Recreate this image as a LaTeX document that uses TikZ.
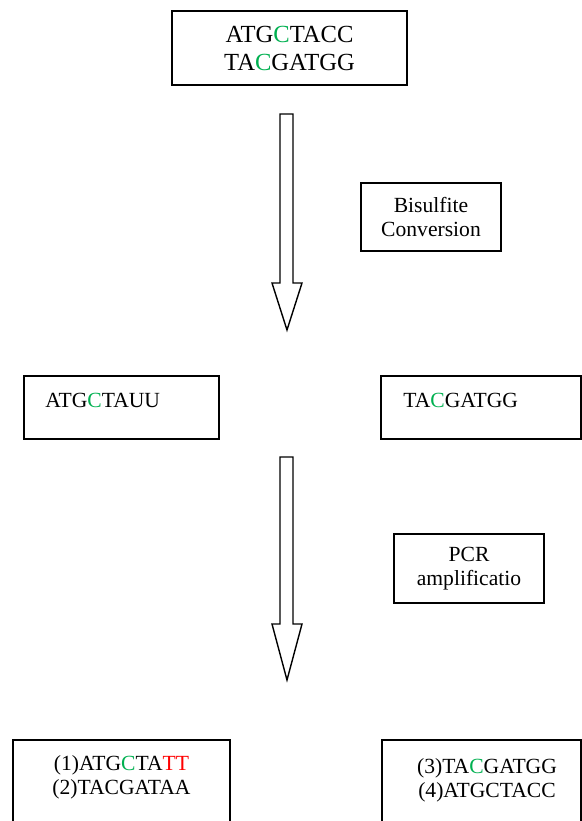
\documentclass[tikz,border=0pt]{standalone}
\usepackage{fontspec}
\setmainfont{Liberation Serif}
\definecolor{cpg}{RGB}{0,176,80}
\definecolor{conv}{RGB}{255,0,0}
\newcommand{\mC}{\textcolor{cpg}{C}}
\newcommand{\cT}{\textcolor{conv}{T}}

\begin{document}
\begin{tikzpicture}[x=0.5pt,y=-0.5pt,
		box/.style={draw,line width=0.9pt,inner sep=0pt,align=center},
		seq/.style={font=\fontsize{10.8}{12}\selectfont,align=center},
		bigseq/.style={font=\fontsize{12.3}{14}\selectfont},
		blockarrow/.style={draw,line width=0.7pt,line join=miter},
	]
	\useasboundingbox (0,0) rectangle (582,821);
	% starting double strand
	\node[box,bigseq,minimum width=117.5pt,minimum height=37pt] (dna) at (289.5,48) {ATG\mC TACC\\TA\mC GATGG};
	% step labels
	\node[box,seq,minimum width=70pt,minimum height=34pt] (bisulfite) at (431,217) {Bisulfite\\Conversion};
	\node[box,seq,minimum width=75pt,minimum height=34.5pt] (pcr) at (469,568.5) {PCR\\amplificatio};
	% converted strands
	\node[box,minimum width=97.5pt,minimum height=31.5pt] (topstrand) at (121.5,407.5) {};
	\node[box,minimum width=100pt,minimum height=31.5pt] (botstrand) at (481,407.5) {};
	\node[seq,inner sep=0pt,anchor=base west] (toptxt) at (45,407) {ATG\mC TAUU};
	\node[seq,inner sep=0pt,anchor=base west] (bottxt) at (403,407) {TA\mC GATGG};
	% amplified products
	\node[box,minimum width=108.5pt,minimum height=50pt] (prodA) at (121.5,790) {};
	\node[box,minimum width=99.5pt,minimum height=50pt] (prodB) at (481.5,790) {};
	\node[seq] (prodAtxt) at (121.5,777) {(1)ATG\mC TA\cT\cT\\(2)TACGATAA};
	\node[seq] (prodBtxt) at (487,780) {(3)TA\mC GATGG\\(4)ATGCTACC};
	% block arrows
	\foreach \ytop/\ybase/\ytip in {114/283/330,457/624/680}
		\draw[blockarrow] (280,\ytop) -- (293,\ytop) -- (293,\ybase) -- (302,\ybase)
			-- (287,\ytip) -- (272,\ybase) -- (280,\ybase) -- cycle;
\end{tikzpicture}
\end{document}
